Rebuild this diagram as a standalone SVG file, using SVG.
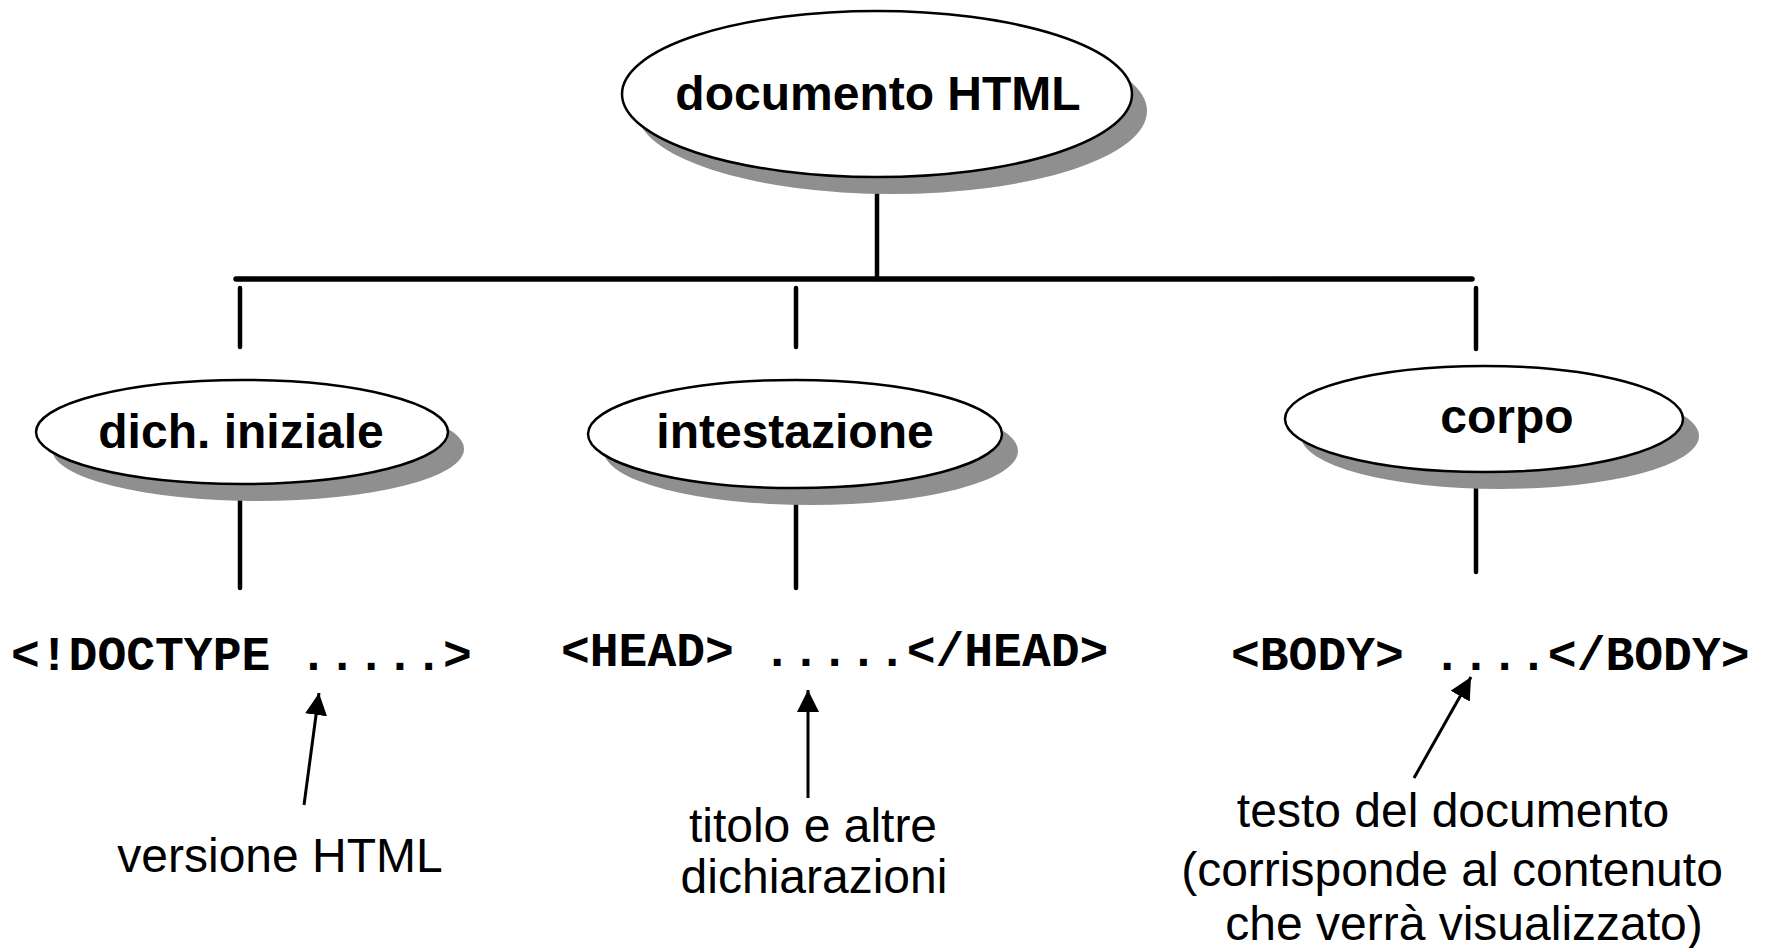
<svg xmlns="http://www.w3.org/2000/svg" width="1765" height="948" viewBox="0 0 1765 948">
<defs>
<style>
.shadow{fill:#8f8f8f;stroke:none}
.node{fill:#ffffff;stroke:#000000;stroke-width:2.5}
.nlabel{font-family:"Liberation Sans",Arial,sans-serif;font-weight:bold;font-size:48px;fill:#000;text-anchor:middle}
.code{font-family:"Liberation Mono","Courier New",monospace;font-weight:bold;font-size:48px;fill:#000}
.note{font-family:"Liberation Sans",Arial,sans-serif;font-size:48px;fill:#000;text-anchor:middle}
.tree{stroke:#000;stroke-width:4.5;fill:none;stroke-linecap:round}
.arrow{stroke:#000;stroke-width:3;fill:none}
</style>
<marker id="ah" viewBox="0 0 10 10" refX="10" refY="5" markerWidth="22" markerHeight="22" markerUnits="userSpaceOnUse" orient="auto">
<path d="M0,0 L10,5 L0,10 z" fill="#000"/>
</marker>
</defs>
<rect width="1765" height="948" fill="#fff"/>

<g id="connectors">
<line class="tree" x1="877" y1="178" x2="877" y2="279"/>
<line class="tree" x1="236" y1="279" x2="1472" y2="279" style="stroke-width:5.5"/>
<line class="tree" x1="240" y1="288" x2="240" y2="347"/>
<line class="tree" x1="796" y1="288" x2="796" y2="347"/>
<line class="tree" x1="1476" y1="288" x2="1476" y2="349"/>
<line class="tree" x1="240" y1="485" x2="240" y2="588"/>
<line class="tree" x1="796" y1="489" x2="796" y2="588"/>
<line class="tree" x1="1476" y1="473" x2="1476" y2="572"/>
<line class="arrow" x1="304" y1="805" x2="319" y2="693" marker-end="url(#ah)"/>
<line class="arrow" x1="808" y1="798" x2="808" y2="690" marker-end="url(#ah)"/>
<line class="arrow" x1="1414" y1="778" x2="1471" y2="677" marker-end="url(#ah)"/>
</g>

<g id="node-documento">
<ellipse class="shadow" cx="892" cy="111" rx="255" ry="83"/>
<ellipse class="node" cx="877" cy="94" rx="255" ry="83"/>
<text class="nlabel" x="878" y="110">documento HTML</text>
</g>

<g id="node-dich">
<ellipse class="shadow" cx="258" cy="449" rx="206" ry="52"/>
<ellipse class="node" cx="242" cy="432" rx="206" ry="52"/>
<text class="nlabel" x="241" y="448">dich. iniziale</text>
</g>

<g id="node-intestazione">
<ellipse class="shadow" cx="811" cy="451" rx="207" ry="54"/>
<ellipse class="node" cx="795" cy="434" rx="207" ry="54"/>
<text class="nlabel" x="795" y="448">intestazione</text>
</g>

<g id="node-corpo">
<ellipse class="shadow" cx="1500" cy="436" rx="199" ry="53"/>
<ellipse class="node" cx="1484" cy="419" rx="199" ry="53"/>
<text class="nlabel" x="1507" y="433">corpo</text>
</g>

<g id="code-doctype">
<text class="code" x="11" y="670" xml:space="preserve">&lt;!DOCTYPE .....&gt;</text>
</g>
<g id="code-head">
<text class="code" x="561" y="666" xml:space="preserve">&lt;HEAD&gt; .....&lt;/HEAD&gt;</text>
</g>
<g id="code-body">
<text class="code" x="1231" y="670" xml:space="preserve">&lt;BODY&gt; ....&lt;/BODY&gt;</text>
</g>

<g id="note-versione">
<text class="note" x="280" y="872">versione HTML</text>
</g>
<g id="note-titolo">
<text class="note" x="813" y="842">titolo e altre</text>
<text class="note" x="814" y="893">dichiarazioni</text>
</g>
<g id="note-testo">
<text class="note" x="1453" y="827">testo del documento</text>
<text class="note" x="1452" y="886">(corrisponde al contenuto</text>
<text class="note" x="1464" y="940">che verrà visualizzato)</text>
</g>
</svg>
